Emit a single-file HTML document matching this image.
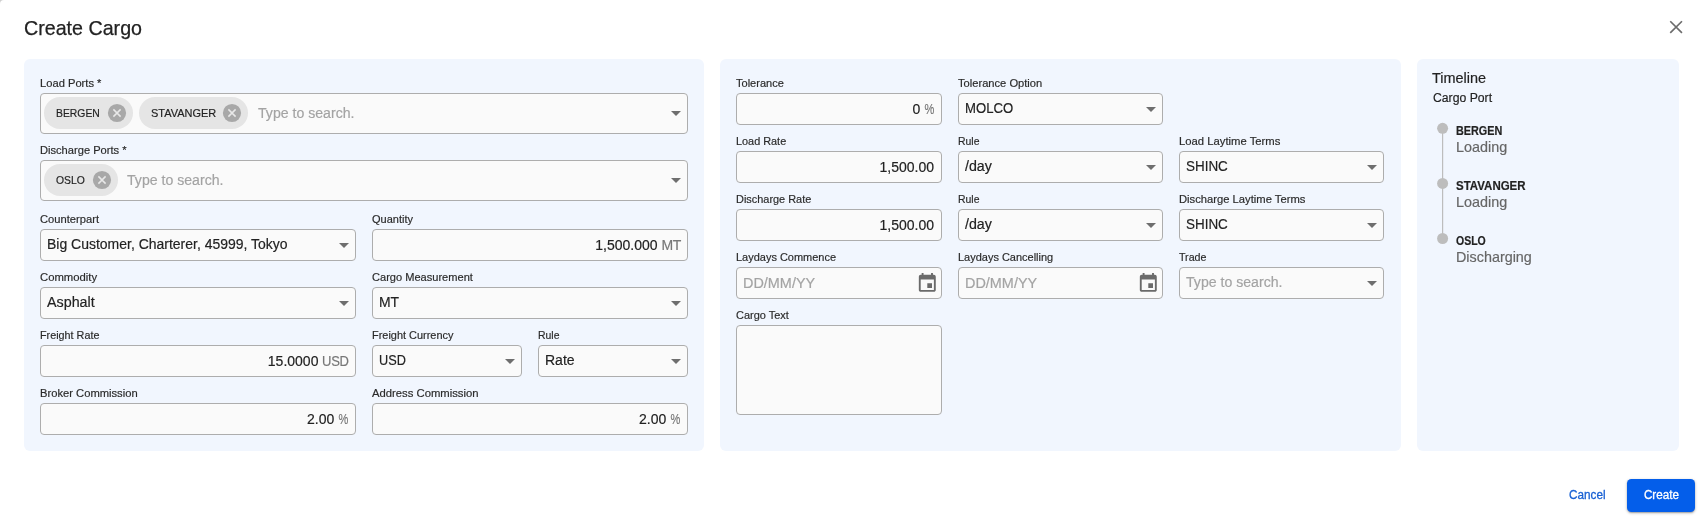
<!DOCTYPE html>
<html>
<head>
<meta charset="utf-8">
<title>Create Cargo</title>
<style>
*{box-sizing:border-box;margin:0;padding:0}
html,body{width:1701px;height:518px;overflow:hidden;background:#cecece;font-family:"Liberation Sans",sans-serif;}
body{-webkit-text-stroke:.18px}
#dlg{position:absolute;left:0;top:0;width:1701px;height:518px;background:#fff;border-radius:4px 0 0 0;will-change:transform;}
.abs{position:absolute}
h1{position:absolute;left:24px;top:15.5px;font-size:20.8px;font-weight:400;color:#222;line-height:24px;white-space:nowrap;-webkit-text-stroke:.25px #222}
.panel{position:absolute;top:59px;height:392px;background:#f1f6fe;border-radius:6px}
.lbl{position:absolute;font-size:11.3px;line-height:14px;color:#2a2a2a;white-space:nowrap}
.inp{position:absolute;height:32px;border:1px solid #adadad;border-radius:4px;background:#fafafa;font-size:14px;line-height:30px;color:#222;white-space:nowrap;padding:0 6px}
.inp.big{height:41px}
.r{text-align:right}
.suf{color:#777;font-size:14px;letter-spacing:-.3px}
.sel{font-size:14px;line-height:28px}
.pct{display:inline-block;transform:scaleX(.79);transform-origin:100% 50%;margin-left:-2.6px;margin-right:1px;letter-spacing:0}
.t{display:inline-block;transform-origin:0 50%}
.t.tr{transform-origin:100% 50%}
.ph{color:#a3a3a3}
.arr{position:absolute;right:6px;top:12.7px;width:0;height:0;border-left:5px solid transparent;border-right:5px solid transparent;border-top:5px solid #6e6e6e}
.big .arr{top:17px}
.chip{position:absolute;top:3px;height:32px;border-radius:16px;background:#e5e5e5;font-size:11.6px;line-height:32px;color:#222;padding-left:12px}
.chip b{font-weight:400;display:inline-block;transform-origin:0 50%}
.chip svg{position:absolute;right:6px;top:6px}
.dot{position:absolute;width:10px;height:10px;border-radius:5px;background:#bdbdbd}
.tn{position:absolute;font-size:12px;font-weight:700;color:#222;line-height:14px;white-space:nowrap}
.ta{position:absolute;font-size:14.2px;color:#666;line-height:16px;white-space:nowrap}
.btxt{-webkit-text-stroke:.3px currentColor}
</style>
</head>
<body>
<div id="dlg">
<h1><span class="t" style="transform:scaleX(0.9451)">Create Cargo</span></h1>
<svg class="abs" style="left:1668px;top:19px" width="16" height="16" viewBox="0 0 16 16"><path d="M2.25 2.25 L13.95 13.95 M13.95 2.25 L2.25 13.95" stroke="#6c6c6c" stroke-width="1.65" fill="none"/></svg>
<div class="panel" style="left:24px;width:680px">
<div class="lbl" style="left:16px;top:17px"><span class="t" style="transform:scaleX(0.9884)">Load Ports *</span></div>
<div class="inp big" style="left:16px;top:34px;width:648px"><div class="chip" style="left:3px;width:88.5px"><b style="transform:scaleX(0.895)">BERGEN</b><svg width="20" height="20" viewBox="0 0 20 20"><circle cx="10" cy="10" r="9.1" fill="#a8a8a8"/><path d="M6.4 6.4 L13.6 13.6 M13.6 6.4 L6.4 13.6" stroke="#e8e8e8" stroke-width="1.5"/></svg></div><div class="chip" style="left:98.3px;width:108.6px"><b style="transform:scaleX(0.946)">STAVANGER</b><svg width="20" height="20" viewBox="0 0 20 20"><circle cx="10" cy="10" r="9.1" fill="#a8a8a8"/><path d="M6.4 6.4 L13.6 13.6 M13.6 6.4 L6.4 13.6" stroke="#e8e8e8" stroke-width="1.5"/></svg></div><span class="ph abs" style="left:217px;top:3.5px"><span class="t" style="transform:scaleX(1.0080)">Type to search.</span></span><div class="arr"></div></div>
<div class="lbl" style="left:16px;top:84px"><span class="t" style="transform:scaleX(0.9844)">Discharge Ports *</span></div>
<div class="inp big" style="left:16px;top:101px;width:648px"><div class="chip" style="left:3px;width:73.5px"><b style="transform:scaleX(0.895)">OSLO</b><svg width="20" height="20" viewBox="0 0 20 20"><circle cx="10" cy="10" r="9.1" fill="#a8a8a8"/><path d="M6.4 6.4 L13.6 13.6 M13.6 6.4 L6.4 13.6" stroke="#e8e8e8" stroke-width="1.5"/></svg></div><span class="ph abs" style="left:86px;top:3.5px"><span class="t" style="transform:scaleX(1.0080)">Type to search.</span></span><div class="arr"></div></div>
<div class="lbl" style="left:16px;top:153px"><span class="t" style="transform:scaleX(0.9888)">Counterpart</span></div>
<div class="inp sel" style="left:16px;top:170px;width:316px"><span class="t" style="transform:scaleX(0.9984)">Big Customer, Charterer, 45999, Tokyo</span><div class="arr"></div></div>
<div class="lbl" style="left:348px;top:153px"><span class="t" style="transform:scaleX(0.9739)">Quantity</span></div>
<div class="inp r" style="left:348px;top:170px;width:316px">1,500.000 <span class="suf">MT</span></div>
<div class="lbl" style="left:16px;top:211px"><span class="t" style="transform:scaleX(0.9996)">Commodity</span></div>
<div class="inp sel" style="left:16px;top:228px;width:316px"><span class="t" style="transform:scaleX(1.0212)">Asphalt</span><div class="arr"></div></div>
<div class="lbl" style="left:348px;top:211px"><span class="t" style="transform:scaleX(0.9794)">Cargo Measurement</span></div>
<div class="inp sel" style="left:348px;top:228px;width:316px"><span class="t" style="transform:scaleX(0.9958)">MT</span><div class="arr"></div></div>
<div class="lbl" style="left:16px;top:269px"><span class="t" style="transform:scaleX(0.9561)">Freight Rate</span></div>
<div class="inp r" style="left:16px;top:286px;width:316px">15.0000 <span class="suf" style="display:inline-block;transform:scaleX(.93);transform-origin:100% 50%;margin-left:-2px">USD</span></div>
<div class="lbl" style="left:348px;top:269px"><span class="t" style="transform:scaleX(0.9678)">Freight Currency</span></div>
<div class="inp sel" style="left:348px;top:286px;width:150px"><span class="t" style="transform:scaleX(0.9085)">USD</span><div class="arr"></div></div>
<div class="lbl" style="left:514px;top:269px"><span class="t" style="transform:scaleX(0.9238)">Rule</span></div>
<div class="inp sel" style="left:514px;top:286px;width:150px"><span class="t" style="transform:scaleX(1.0008)">Rate</span><div class="arr"></div></div>
<div class="lbl" style="left:16px;top:327px"><span class="t" style="transform:scaleX(0.9909)">Broker Commission</span></div>
<div class="inp r" style="left:16px;top:344px;width:316px">2.00 <span class="suf pct">%</span></div>
<div class="lbl" style="left:348px;top:327px"><span class="t" style="transform:scaleX(0.9981)">Address Commission</span></div>
<div class="inp r" style="left:348px;top:344px;width:316px">2.00 <span class="suf pct">%</span></div>
</div>
<div class="panel" style="left:720px;width:681px">
<div class="lbl" style="left:16px;top:17px"><span class="t" style="transform:scaleX(0.9779)">Tolerance</span></div>
<div class="inp r" style="left:16px;top:34px;width:206px">0 <span class="suf pct">%</span></div>
<div class="lbl" style="left:238px;top:17px"><span class="t" style="transform:scaleX(0.9863)">Tolerance Option</span></div>
<div class="inp sel" style="left:238px;top:34px;width:205px"><span class="t" style="transform:scaleX(0.9373)">MOLCO</span><div class="arr"></div></div>
<div class="lbl" style="left:16px;top:75px"><span class="t" style="transform:scaleX(0.9628)">Load Rate</span></div>
<div class="inp r" style="left:16px;top:92px;width:206px;padding-right:7px">1,500.00</div>
<div class="lbl" style="left:238px;top:75px"><span class="t" style="transform:scaleX(0.9238)">Rule</span></div>
<div class="inp sel" style="left:238px;top:92px;width:205px"><span class="t" style="transform:scaleX(1.0169)">/day</span><div class="arr"></div></div>
<div class="lbl" style="left:459px;top:75px"><span class="t" style="transform:scaleX(0.9981)">Load Laytime Terms</span></div>
<div class="inp sel" style="left:459px;top:92px;width:205px"><span class="t" style="transform:scaleX(0.9598)">SHINC</span><div class="arr"></div></div>
<div class="lbl" style="left:16px;top:133px"><span class="t" style="transform:scaleX(0.9666)">Discharge Rate</span></div>
<div class="inp r" style="left:16px;top:150px;width:206px;padding-right:7px">1,500.00</div>
<div class="lbl" style="left:238px;top:133px"><span class="t" style="transform:scaleX(0.9238)">Rule</span></div>
<div class="inp sel" style="left:238px;top:150px;width:205px"><span class="t" style="transform:scaleX(1.0169)">/day</span><div class="arr"></div></div>
<div class="lbl" style="left:459px;top:133px"><span class="t" style="transform:scaleX(0.9931)">Discharge Laytime Terms</span></div>
<div class="inp sel" style="left:459px;top:150px;width:205px"><span class="t" style="transform:scaleX(0.9598)">SHINC</span><div class="arr"></div></div>
<div class="lbl" style="left:16px;top:191px"><span class="t" style="transform:scaleX(0.9716)">Laydays Commence</span></div>
<div class="inp" style="left:16px;top:208px;width:206px"><span class="ph"><span class="t" style="transform:scaleX(1.0305)">DD/MM/YY</span></span><svg class="abs" style="right:2.5px;top:4px" width="22.6" height="22.6" viewBox="0 0 24 24"><path fill="#6a6a6a" d="M17 12h-5v5h5v-5zM16 1v2H8V1H6v2H5c-1.11 0-1.99.9-1.99 2L3 19c0 1.1.89 2 2 2h14c1.1 0 2-.9 2-2V5c0-1.1-.9-2-2-2h-1V1h-2zm3 18H5V8h14v11z"/></svg></div>
<div class="lbl" style="left:238px;top:191px"><span class="t" style="transform:scaleX(0.9715)">Laydays Cancelling</span></div>
<div class="inp" style="left:238px;top:208px;width:205px"><span class="ph"><span class="t" style="transform:scaleX(1.0305)">DD/MM/YY</span></span><svg class="abs" style="right:2.5px;top:4px" width="22.6" height="22.6" viewBox="0 0 24 24"><path fill="#6a6a6a" d="M17 12h-5v5h5v-5zM16 1v2H8V1H6v2H5c-1.11 0-1.99.9-1.99 2L3 19c0 1.1.89 2 2 2h14c1.1 0 2-.9 2-2V5c0-1.1-.9-2-2-2h-1V1h-2zm3 18H5V8h14v11z"/></svg></div>
<div class="lbl" style="left:459px;top:191px"><span class="t" style="transform:scaleX(0.9447)">Trade</span></div>
<div class="inp sel" style="left:459px;top:208px;width:205px"><span class="ph"><span class="t" style="transform:scaleX(1.0080)">Type to search.</span></span><div class="arr"></div></div>
<div class="lbl" style="left:16px;top:249px"><span class="t" style="transform:scaleX(0.9701)">Cargo Text</span></div>
<div class="inp" style="left:16px;top:266px;width:206px;height:90px"></div>
</div>
<div class="panel" style="left:1417px;width:262px">
<div class="abs" style="left:15.3px;top:9.6px;font-size:14px;line-height:18px;color:#222"><span class="t" style="transform:scaleX(1.0321)">Timeline</span></div>
<div class="abs" style="left:15.5px;top:31px;font-size:12.3px;line-height:16px;color:#222"><span class="t" style="transform:scaleX(0.9929)">Cargo Port</span></div>
<svg class="abs" style="left:0;top:0" width="60" height="260" viewBox="0 0 60 260"><path d="M25.6 69.3V179.5" stroke="#bdbdbd" stroke-width="1.2" fill="none"/><circle cx="25.6" cy="69.3" r="5.5" fill="#bdbdbd"/><circle cx="25.6" cy="124.4" r="5.5" fill="#bdbdbd"/><circle cx="25.6" cy="179.5" r="5.5" fill="#bdbdbd"/></svg>
<div class="tn" style="left:39px;top:65px"><span class="t" style="transform:scaleX(0.9012)">BERGEN</span></div>
<div class="ta" style="left:39px;top:80px"><span class="t" style="transform:scaleX(1.0135)">Loading</span></div>
<div class="tn" style="left:39px;top:120px"><span class="t" style="transform:scaleX(0.9574)">STAVANGER</span></div>
<div class="ta" style="left:39px;top:135px"><span class="t" style="transform:scaleX(1.0135)">Loading</span></div>
<div class="tn" style="left:39px;top:175px"><span class="t" style="transform:scaleX(0.8766)">OSLO</span></div>
<div class="ta" style="left:39px;top:190px"><span class="t" style="transform:scaleX(1.0118)">Discharging</span></div>
</div>
<div class="abs btxt" style="left:1569px;top:487px;font-size:12.3px;line-height:16px;color:#1a62d4"><span class="t" style="transform:scaleX(0.9545)">Cancel</span></div>
<div class="abs btxt" style="left:1627px;top:479px;width:68px;height:32.6px;border-radius:4.5px;background:#045eea;color:#fff;font-size:12.3px;line-height:32px;text-align:center;box-shadow:0 1px 3px rgba(0,0,0,.3),0 1px 1px rgba(0,0,0,.15)"><span class="t" style="transform-origin:50% 50%;transform:scaleX(0.9494)">Create</span></div>
</div>
</body>
</html>
